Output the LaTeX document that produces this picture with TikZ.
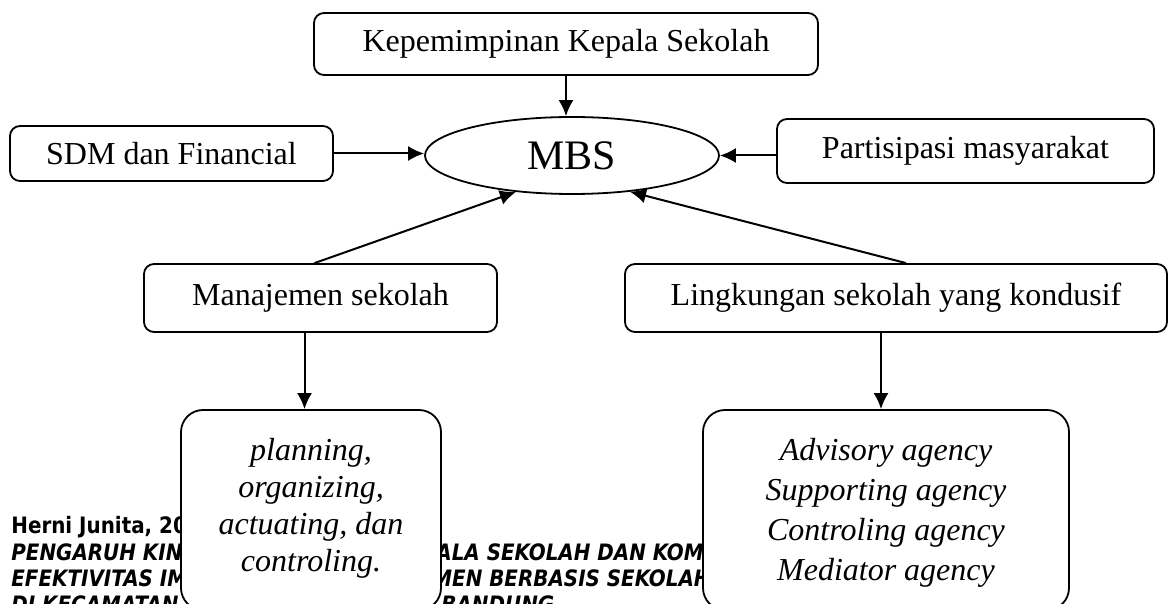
\documentclass[tikz,border=0pt]{standalone}
\usepackage{fontspec}
\setmainfont{Liberation Serif}
\newfontfamily\footfont[FakeStretch=0.88]{DejaVu Sans}
\usepackage{tikz}
\usetikzlibrary{positioning, calc, shapes, arrows.meta}

\begin{document}
\begin{tikzpicture}[x=0.5pt, y=-0.5pt]
\tikzstyle{box}=[draw, line width=0.9pt, rounded corners=5pt, fill=white,
font=\fontsize{16}{18.5}\selectfont, inner sep=0pt]
\tikzstyle{bigbox}=[draw, line width=0.9pt, rounded corners=11pt, fill=white, inner sep=0pt]
\tikzstyle{lines}=[align=center, inner sep=0pt, font=\fontsize{16}{18.5}\selectfont\itshape]
\tikzstyle{oval}=[draw, ellipse, line width=0.9pt, inner sep=0pt, font=\fontsize{21}{24}\selectfont]
\tikzstyle{arr}=[line width=1pt, -{Latex[length=8pt, width=7.5pt]}]
\tikzstyle{foot}=[anchor=base west, inner sep=0pt, font=\footfont\bfseries\fontsize{11.3}{13}\selectfont]
\tikzstyle{footit}=[foot, font=\footfont\bfseries\itshape\fontsize{11.3}{13}\selectfont]

\clip (0,0) rectangle (1168,604);

% page footer behind the boxes
\node (ft1) [foot] at (11,533) {Herni Junita, 2014};
\node (ft2a) [footit] at (11,560) {PENGARUH KINERJA};
\node (ft2b) [footit] at (436,560) {\llap{KEP}ALA SEKOLAH DAN KOMITE};
\node (ft3a) [footit] at (11,586) {EFEKTIVITAS IMPLEMENTASI};
\node (ft3b) [footit] at (432,586) {\llap{MANAJE}MEN BERBASIS SEKOLAH};
\node (ft4a) [footit] at (11,612) {DI KECAMATAN};
\node (ft4b) [footit] at (441,612) {BANDUNG};

% centre
\node (mbs) [oval, minimum width=147pt, minimum height=38.5pt] at (572,155.5) {MBS};

% factors
\node (kep) [box, minimum width=252pt, minimum height=31pt] at (566,44) {Kepemimpinan Kepala Sekolah};
\node (sdm) [box, minimum width=161.5pt, minimum height=27.5pt] at (171.5,153.5) {SDM dan Financial};
\node (par) [box, minimum width=188.5pt, minimum height=32pt] at (965.5,151) {Partisipasi masyarakat};
\node (man) [box, minimum width=176.5pt, minimum height=34pt] at (320.5,298) {Manajemen sekolah};
\node (lin) [box, minimum width=271pt, minimum height=34pt] at (896,298) {Lingkungan sekolah yang kondusif};

% details
\node (plan) [bigbox, minimum width=130pt, minimum height=100pt] at (311,510) {};
\node (plantext) [lines] at ([yshift=1pt]plan.center)
  {planning,\\ organizing,\\ actuating, dan\\ controling.};
\node (adv) [bigbox, minimum width=183pt, minimum height=100pt] at (886,510) {};
\node (advtext) [lines, font=\fontsize{16}{20}\selectfont\itshape] at ([yshift=-1.5pt]adv.center)
  {Advisory agency\\ Supporting agency\\ Controling agency\\ Mediator agency};

% connections
\draw[arr] (kep) -- (kep |- mbs.north);
\draw[arr] (sdm) -- (sdm -| mbs.west);
\draw[arr] (par.west |- mbs.east) -- (mbs.east);
\draw[arr] ([xshift=-3pt]man.north) -- (mbs.213);
\draw[arr] ([xshift=5pt]lin.north) -- (mbs.328);
\draw[arr] ([xshift=-8pt]man.south) -- ([xshift=-8pt]man.south |- plan.north);
\draw[arr] ([xshift=-7.5pt]lin.south) -- ([xshift=-7.5pt]lin.south |- adv.north);

\end{tikzpicture}
\end{document}
